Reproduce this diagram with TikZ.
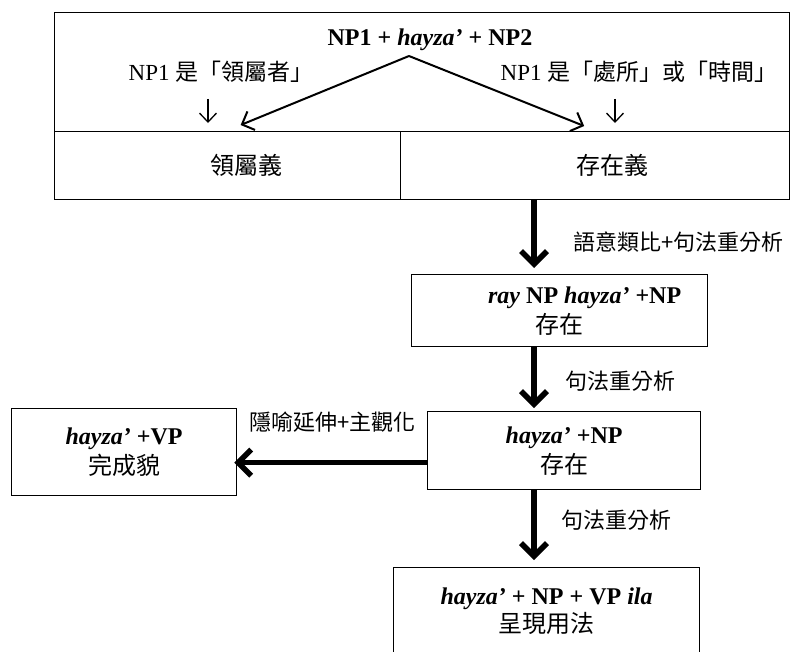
\documentclass[tikz,border=0pt]{standalone}
\usepackage{fontspec}
\setmainfont{Liberation Serif}
\newfontfamily\cjk{Noto Sans CJK TC}
\usetikzlibrary{arrows.meta}
\newcommand{\bigfs}{\fontsize{24pt}{30pt}\selectfont}
\newcommand{\labfs}{\fontsize{22pt}{26pt}\selectfont}
\tikzset{cell/.style = {draw, line width = 1.3pt, inner sep = 0, anchor = north west}}
\tikzset{blk/.style = {cell, align = center, font = \bigfs}}
\tikzset{lab/.style = {inner sep = 0, font = \labfs}}
\tikzset{flow/.style = {line width = 5.5pt, -{Straight Barb[length = 13pt, width = 26pt]}}}
\tikzset{thinarr/.style = {line width = 1.3pt, -{Straight Barb[length = 9pt, width = 17pt]}}}
\tikzset{midarr/.style = {line width = 2pt, -{Straight Barb[length = 10pt, width = 20pt]}}}

\begin{document}
\begin{tikzpicture}[x = 1pt, y = -1pt]
  \useasboundingbox (0, 0) rectangle (795, 651);
  % top table
  \node [cell, minimum width = 735pt, minimum height = 119pt] (head) at (54, 12) {};
  \node [cell, minimum width = 346pt, minimum height = 68pt] (poss) at (54, 131) {};
  \node [cell, minimum width = 389pt, minimum height = 68pt] (exist) at (400, 131) {};
  \node [lab, font = \bigfs\bfseries] (title) at (430, 40) {NP1 + \textit{hayza’} + NP2};
  \node [lab, font = \fontsize{23pt}{26pt}\selectfont] (possL) at (221, 72) {NP1 {\cjk 是「領屬者」}};
  \node [lab, font = \fontsize{23pt}{26pt}\selectfont] (existL) at (639, 72) {NP1 {\cjk 是「處所」或「時間」}};
  \node [lab, font = \bigfs\cjk] (possT) at (246, 165) {領屬義};
  \node [lab, font = \bigfs\cjk] (existT) at (612, 165) {存在義};
  \coordinate (apex) at (409, 56);
  \coordinate (lcol) at (208, 0);
  \coordinate (rcol) at (615, 0);
  \coordinate (mcol) at (534, 0);
  \draw [thinarr, shorten <= 16pt, shorten >= 8pt] (possL.south -| lcol) -- (poss.north -| lcol);
  \draw [thinarr, shorten <= 16pt, shorten >= 8pt] (existL.south -| rcol) -- (exist.north -| rcol);
  \draw [midarr] (apex) -- ([xshift = 13pt, yshift = 6pt]poss.north);
  \draw [midarr] (apex) -- ([xshift = -11pt, yshift = 5pt]exist.north);
  % chain of boxes
  \node [blk, minimum width = 296pt, minimum height = 72pt] (exist2) at (411, 274)
    {\hspace*{50pt}\textbf{\textit{ray} NP \textit{hayza’} +NP}\\ \cjk 存在};
  \node [blk, minimum width = 273pt, minimum height = 78pt] (exist3) at (427, 411)
    {\textbf{\textit{hayza’} +NP}\\ \cjk 存在};
  \node [blk, minimum width = 225pt, minimum height = 87pt] (perf) at (11, 408)
    {\textbf{\textit{hayza’} +VP}\\ \cjk 完成貌};
  \node [blk, minimum width = 306pt, minimum height = 88pt] (pres) at (393, 567)
    {\textbf{\textit{hayza’} + NP + VP \textit{ila}}\\[-2pt] \cjk 呈現用法};
  \draw [flow, shorten >= 6pt] (exist.south -| mcol) -- (exist2.north -| mcol);
  \draw [flow, shorten >= 3pt] (exist2.south -| mcol) -- (exist3.north -| mcol);
  \draw [flow, shorten >= 7pt] (exist3.south -| mcol) -- (pres.north -| mcol);
  \draw [flow, shorten >= -3pt] ([yshift = -12pt]exist3.west) -- ([yshift = -12pt]exist3.west -| perf.east);
  \node [lab, anchor = west, font = \labfs\cjk] at (573, 242) {語意類比+句法重分析};
  \node [lab, anchor = west, font = \labfs\cjk] at (565, 381) {句法重分析};
  \node [lab, anchor = west, font = \labfs\cjk] at (561, 520) {句法重分析};
  \node [lab, anchor = west, font = \labfs\cjk] at (249, 422) {隱喻延伸+主觀化};
\end{tikzpicture}
\end{document}
